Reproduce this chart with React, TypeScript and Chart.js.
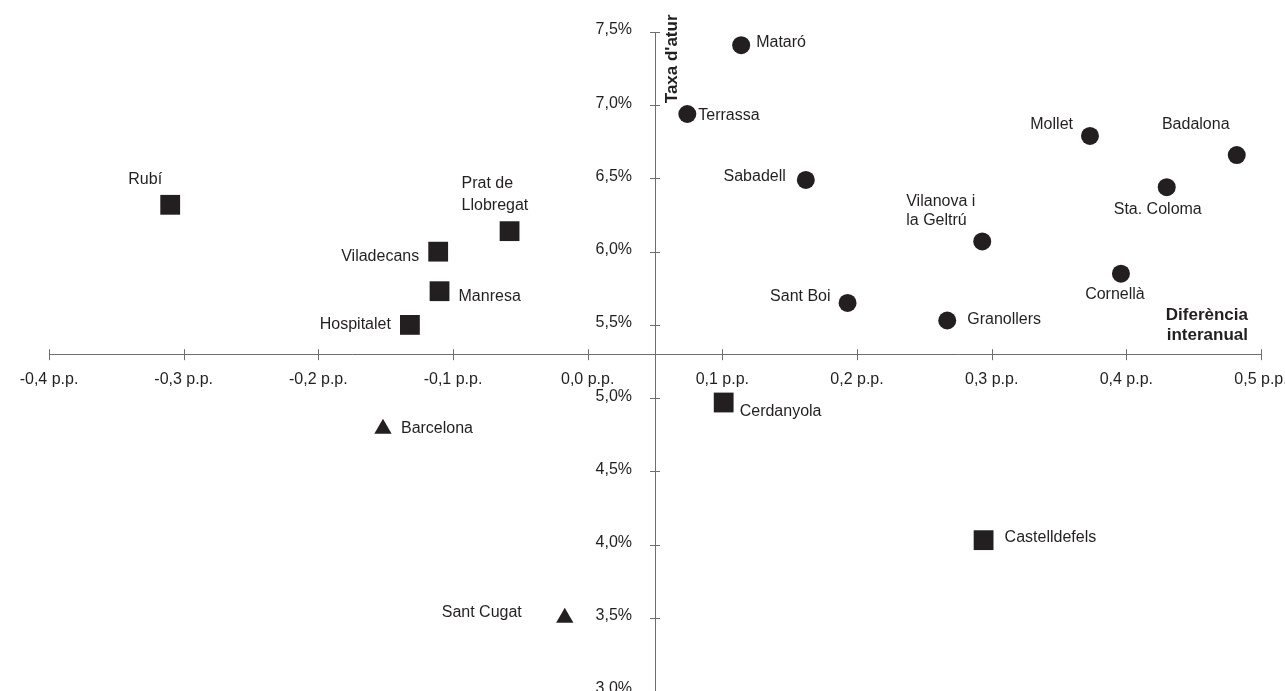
import React, { useEffect, useRef } from 'react';
import { Chart, registerables } from 'chart.js';

Chart.register(...registerables);

// ---- Data ----
const circleCities = ['Mataró', 'Terrassa', 'Mollet', 'Badalona', 'Sabadell', 'Sta. Coloma', 'Vilanova i la Geltrú', 'Cornellà', 'Sant Boi', 'Granollers'];
const circleDiff = [0.114, 0.074, 0.373, 0.482, 0.162, 0.430, 0.293, 0.396, 0.193, 0.267];
const circleRate = [7.41, 6.94, 6.79, 6.66, 6.49, 6.44, 6.07, 5.85, 5.65, 5.53];

const squareCities = ['Rubí', 'Prat de Llobregat', 'Viladecans', 'Manresa', 'Hospitalet', 'Cerdanyola', 'Castelldefels'];
const squareDiff = [-0.310, -0.058, -0.111, -0.110, -0.132, 0.101, 0.294];
const squareRate = [6.32, 6.14, 6.0, 5.73, 5.5, 4.97, 4.03];

const triangleCities = ['Barcelona', 'Sant Cugat'];
const triangleDiff = [-0.152, -0.017];
const triangleRate = [4.79, 3.5];

const xTickValues = [-0.4, -0.3, -0.2, -0.1, 0, 0.1, 0.2, 0.3, 0.4, 0.5];
const xTickLabels = ['-0,4 p.p.', '-0,3 p.p.', '-0,2 p.p.', '-0,1 p.p.', '0,0 p.p.', '0,1 p.p.', '0,2 p.p.', '0,3 p.p.', '0,4 p.p.', '0,5 p.p.'];
const yTickValues = [3.0, 3.5, 4.0, 4.5, 5.0, 5.5, 6.0, 6.5, 7.0, 7.5];
const yTickLabels = ['3,0%', '3,5%', '4,0%', '4,5%', '5,0%', '5,5%', '6,0%', '6,5%', '7,0%', '7,5%'];

const xAxisCross = 5.3; // y value where the x axis sits
const yAxisCross = 0.05; // x value where the y axis sits
const xTitleLines = ['Diferència', 'interanual'];
const yTitle = "Taxa d'atur";

// ---- Label placement (styling, relative to each point) ----
type Place = { align: CanvasTextAlign; dx: number; dy: number; lines?: string[]; lh?: number };
const labelPlacement: Record<string, Place> = {
  'Mataró': { align: 'left', dx: 15, dy: -3 },
  'Terrassa': { align: 'left', dx: 11, dy: 2 },
  'Mollet': { align: 'right', dx: -17, dy: -11 },
  'Badalona': { align: 'center', dx: -41, dy: -30 },
  'Sabadell': { align: 'right', dx: -20, dy: -3 },
  'Sta. Coloma': { align: 'center', dx: -9, dy: 22 },
  'Vilanova i la Geltrú': { align: 'left', dx: -76, dy: -40, lines: ['Vilanova i', 'la Geltrú'], lh: 19 },
  'Cornellà': { align: 'center', dx: -6, dy: 21 },
  'Sant Boi': { align: 'right', dx: -17, dy: -6 },
  'Granollers': { align: 'left', dx: 20, dy: -1 },
  'Rubí': { align: 'center', dx: -25, dy: -25 },
  'Prat de Llobregat': { align: 'left', dx: -48, dy: -48, lines: ['Prat de', 'Llobregat'], lh: 22 },
  'Viladecans': { align: 'right', dx: -19, dy: 5 },
  'Manresa': { align: 'left', dx: 19, dy: 5 },
  'Hospitalet': { align: 'right', dx: -19, dy: 0 },
  'Cerdanyola': { align: 'left', dx: 16, dy: 9 },
  'Castelldefels': { align: 'left', dx: 21, dy: -3 },
  'Barcelona': { align: 'left', dx: 18, dy: 0 },
  'Sant Cugat': { align: 'right', dx: -43, dy: -5 },
};

const FONT = "'Liberation Sans', Arial, Helvetica, sans-serif";
const INK = '#231f20';
const AXIS = '#6d6e71';

const toPoints = (xs: number[], ys: number[]) => xs.map((x, i) => ({ x, y: ys[i] }));

const decorPlugin = {
  id: 'decor',
  afterDraw(chart: any) {
    const ctx: CanvasRenderingContext2D = chart.ctx;
    const xs = chart.scales.x;
    const ys = chart.scales.y;
    const axisY = ys.getPixelForValue(xAxisCross);
    const axisX = xs.getPixelForValue(yAxisCross);
    ctx.save();
    // crossing tick marks
    ctx.strokeStyle = AXIS;
    ctx.lineWidth = 1;
    ctx.beginPath();
    xTickValues.forEach((v) => {
      const px = Math.round(xs.getPixelForValue(v)) + 0.5;
      ctx.moveTo(px, axisY - 5);
      ctx.lineTo(px, axisY + 6);
    });
    yTickValues.forEach((v) => {
      const py = Math.round(ys.getPixelForValue(v)) + 0.5;
      ctx.moveTo(axisX - 5, py);
      ctx.lineTo(axisX + 5, py);
    });
    ctx.stroke();

    // y tick labels (left of the centred axis)
    ctx.fillStyle = INK;
    ctx.font = `16px ${FONT}`;
    ctx.textBaseline = 'middle';
    ctx.textAlign = 'right';
    yTickValues.forEach((v, i) => {
      ctx.fillText(yTickLabels[i], axisX - 23, ys.getPixelForValue(v) - 2);
    });

    // point labels
    chart.data.datasets.forEach((ds: any, di: number) => {
      const meta = chart.getDatasetMeta(di);
      ds.names.forEach((name: string, i: number) => {
        const el = meta.data[i];
        const p = labelPlacement[name];
        if (!el || !p) return;
        const lines = p.lines || [name];
        ctx.textAlign = p.align;
        lines.forEach((ln, li) => {
          ctx.fillText(ln, el.x + p.dx, el.y + p.dy + li * (p.lh || 19));
        });
      });
    });

    // axis titles
    ctx.font = `bold 17px ${FONT}`;
    ctx.textAlign = 'right';
    const rightX = xs.getPixelForValue(0.5) - 13;
    ctx.fillText(xTitleLines[0], rightX, axisY - 39);
    ctx.fillText(xTitleLines[1], rightX, axisY - 19);

    ctx.translate(axisX + 17, ys.getPixelForValue(7.0) - 2);
    ctx.rotate(-Math.PI / 2);
    ctx.textAlign = 'left';
    ctx.fillText(yTitle, 0, 0);
    ctx.restore();
  },
};

export default function App() {
  const ref = useRef<HTMLCanvasElement | null>(null);

  useEffect(() => {
    document.body.style.margin = '0';
    document.body.style.overflow = 'hidden';
    document.documentElement.style.overflow = 'hidden';
    if (!ref.current) return;
    const common = { backgroundColor: INK, borderColor: INK, borderWidth: 0, showLine: false };
    const chart = new Chart(ref.current, {
      type: 'scatter',
      data: {
        datasets: [
          { ...common, label: 'circle', names: circleCities, data: toPoints(circleDiff, circleRate), pointStyle: 'circle', pointRadius: 9 } as any,
          { ...common, label: 'square', names: squareCities, data: toPoints(squareDiff, squareRate), pointStyle: 'rect', pointRadius: 14 } as any,
          { ...common, label: 'triangle', names: triangleCities, data: toPoints(triangleDiff, triangleRate), pointStyle: 'triangle', pointRadius: 10 } as any,
        ],
      },
      options: {
        responsive: false,
        animation: false,
        events: [],
        layout: { padding: { left: 49, right: 24, top: 32, bottom: 0 } },
        plugins: { legend: { display: false }, tooltip: { enabled: false } },
        scales: {
          x: {
            type: 'linear',
            min: -0.4,
            max: 0.5,
            position: { y: xAxisCross } as any,
            afterBuildTicks: (s: any) => { s.ticks = xTickValues.map((v) => ({ value: v })); },
            afterFit: (s: any) => { s.height = 0; s.paddingLeft = 0; s.paddingRight = 0; },
            grid: { display: true, drawOnChartArea: false, drawTicks: false, tickLength: 0 },
            border: { display: true, color: AXIS, width: 1 },
            ticks: {
              autoSkip: false,
              maxRotation: 0,
              padding: 16,
              color: INK,
              font: { family: FONT, size: 16 },
              callback: (_v: any, i: number) => xTickLabels[i],
            },
          },
          y: {
            type: 'linear',
            min: 3.0,
            max: 7.5,
            position: { x: yAxisCross } as any,
            afterBuildTicks: (s: any) => { s.ticks = yTickValues.map((v) => ({ value: v })); },
            afterFit: (s: any) => { s.width = 0; s.paddingTop = 0; s.paddingBottom = 0; },
            grid: { display: true, drawOnChartArea: false, drawTicks: false, tickLength: 0 },
            border: { display: true, color: AXIS, width: 1 },
            ticks: { display: false },
          },
        },
      } as any,
      plugins: [decorPlugin],
    });
    return () => chart.destroy();
  }, []);

  return (
    <div style={{ width: 1285, height: 691, position: 'relative', overflow: 'hidden' }}>
      <canvas ref={ref} width={1285} height={705} style={{ display: 'block' }} />
    </div>
  );
}
